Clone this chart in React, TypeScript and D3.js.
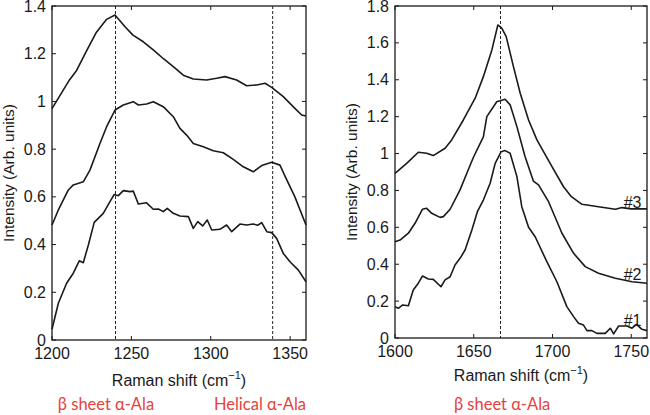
import React from "react";
import * as d3 from "d3";

// ---- Left panel data (Raman shift, intensity) ----
const leftTopX = [1200, 1211, 1215.5, 1222, 1228, 1234.4, 1239.7, 1246, 1251, 1257.5, 1264, 1270, 1276.4, 1282.7, 1289, 1297.4, 1303.7, 1309, 1316.3, 1322.6, 1329, 1334.2, 1338.4, 1345.7, 1353, 1357.3, 1360];
const leftTopY = [0.97, 1.09, 1.13, 1.215, 1.29, 1.344, 1.362, 1.313, 1.278, 1.25, 1.215, 1.18, 1.146, 1.11, 1.094, 1.09, 1.097, 1.104, 1.09, 1.066, 1.069, 1.076, 1.059, 1.02, 0.971, 0.943, 0.939];

const leftMidX = [1200, 1204, 1210.3, 1213.4, 1219.7, 1223.9, 1230.2, 1234.4, 1239.7, 1244.9, 1251.2, 1254.4, 1259.6, 1263.8, 1270.1, 1276.4, 1280.6, 1284.8, 1289, 1295.3, 1301.6, 1307.9, 1314.2, 1320.5, 1326.8, 1332.1, 1338.4, 1343.6, 1347, 1353, 1360];
const leftMidY = [0.482, 0.545, 0.629, 0.65, 0.663, 0.712, 0.824, 0.894, 0.964, 0.985, 0.999, 0.985, 0.989, 0.999, 0.978, 0.936, 0.887, 0.859, 0.824, 0.81, 0.793, 0.785, 0.757, 0.726, 0.705, 0.731, 0.745, 0.733, 0.684, 0.6, 0.482];

const leftBotX = [1200, 1204, 1209.2, 1213.4, 1217.2, 1219.7, 1222.9, 1226.6, 1232.3, 1236.5, 1239.2, 1241.8, 1244.9, 1249.1, 1251.2, 1254.4, 1259.6, 1263.8, 1267, 1270.1, 1272.6, 1276.4, 1280.6, 1285.9, 1289, 1291.8, 1294.9, 1297.8, 1300.6, 1305.8, 1310, 1313.2, 1318.4, 1322.6, 1326.8, 1329.6, 1332.1, 1335.3, 1338.4, 1341.5, 1345.7, 1349.9, 1355.2, 1360];
const leftBotY = [0.045, 0.154, 0.238, 0.28, 0.332, 0.324, 0.398, 0.493, 0.531, 0.58, 0.61, 0.605, 0.626, 0.622, 0.624, 0.57, 0.575, 0.548, 0.549, 0.538, 0.552, 0.531, 0.52, 0.517, 0.468, 0.496, 0.478, 0.503, 0.461, 0.464, 0.482, 0.454, 0.486, 0.482, 0.486, 0.481, 0.492, 0.454, 0.45, 0.426, 0.363, 0.328, 0.293, 0.244];

// ---- Right panel data ----
const rightTopX = [1600, 1607.4, 1614.8, 1620.1, 1624.3, 1631.8, 1636, 1643.4, 1650.9, 1656.1, 1661.5, 1665.3, 1667.8, 1670.6, 1675.2, 1679.5, 1684.8, 1690.1, 1698.5, 1707, 1712, 1718.7, 1729.2, 1739.9, 1744.1, 1750, 1760];
const rightTopY = [0.893, 0.947, 1.007, 1.002, 0.989, 1.029, 1.074, 1.182, 1.3, 1.417, 1.562, 1.697, 1.68, 1.634, 1.471, 1.327, 1.182, 1.074, 0.947, 0.82, 0.766, 0.725, 0.712, 0.698, 0.707, 0.7, 0.7];

const rightMidX = [1600, 1603.2, 1608.5, 1612.7, 1617.4, 1620.1, 1623.3, 1628.6, 1630.7, 1635, 1641.3, 1645.6, 1649.8, 1656.1, 1658.3, 1664.6, 1669.9, 1673.1, 1677.4, 1682.6, 1687.9, 1691.1, 1697.5, 1706, 1713.4, 1720.8, 1729.2, 1739.9, 1750.5, 1760];
const rightMidY = [0.522, 0.531, 0.568, 0.622, 0.698, 0.703, 0.676, 0.654, 0.658, 0.698, 0.803, 0.893, 0.98, 1.09, 1.2, 1.281, 1.294, 1.264, 1.146, 0.983, 0.85, 0.83, 0.739, 0.568, 0.459, 0.387, 0.351, 0.324, 0.305, 0.297];

const rightBotX = [1600, 1602.1, 1604.9, 1608.5, 1611.6, 1614.8, 1617.4, 1621.2, 1624.3, 1629.2, 1631.8, 1635, 1638.1, 1641.3, 1644.5, 1648.8, 1652.3, 1656.1, 1660.4, 1663.6, 1667.4, 1669.9, 1673.1, 1677.4, 1680.5, 1684.8, 1689, 1696.4, 1702.8, 1709.1, 1713.4, 1716.5, 1719.7, 1721.9, 1725, 1728.2, 1733.5, 1736.7, 1738.8, 1742, 1747.3, 1750.5, 1753.3, 1756.8, 1760];
const rightBotY = [0.17, 0.161, 0.179, 0.175, 0.26, 0.297, 0.336, 0.32, 0.318, 0.278, 0.315, 0.332, 0.396, 0.432, 0.477, 0.586, 0.685, 0.748, 0.839, 0.947, 1.01, 1.016, 1.002, 0.875, 0.712, 0.6, 0.549, 0.414, 0.305, 0.17, 0.116, 0.08, 0.07, 0.04, 0.04, 0.025, 0.025, 0.053, 0.022, 0.065, 0.065, 0.053, 0.074, 0.047, 0.04];

const leftXTicks = [1200, 1250, 1300, 1350];
const leftYTicks = [0, 0.2, 0.4, 0.6, 0.8, 1, 1.2, 1.4];
const rightXTicks = [1600, 1650, 1700, 1750];
const rightYTicks = [0, 0.2, 0.4, 0.6, 0.8, 1, 1.2, 1.4, 1.6, 1.8];
const leftMarkers = [1240, 1339];
const rightMarkers = [1667];
const seriesLabels = ["#3", "#2", "#1"];
const seriesLabelY = [0.735, 0.345, 0.095];
const leftBandLabels = ["β sheet α-Ala", "Helical α-Ala"];
const rightBandLabels = ["β sheet α-Ala"];

type PanelProps = {
  x0: number; x1: number; y0: number; y1: number;
  xDomain: [number, number]; yDomain: [number, number];
  xTicks: number[]; yTicks: number[];
  series: { x: number[]; y: number[] }[];
  markers: number[];
  yLabelX: number; xLabelY: number;
};

const font = "'Liberation Sans', Arial, sans-serif";

function Panel(p: PanelProps) {
  const xs = d3.scaleLinear().domain(p.xDomain).range([p.x0, p.x1]);
  const ys = d3.scaleLinear().domain(p.yDomain).range([p.y1, p.y0]);
  const line = d3.line<[number, number]>().x((d) => xs(d[0])).y((d) => ys(d[1]));
  const tl = 4;
  return (
    <g>
      {p.markers.map((m, i) => (
        <line key={"m" + i} x1={xs(m)} x2={xs(m)} y1={p.y0} y2={p.y1} stroke="#222" strokeWidth={1} strokeDasharray="3,2" />
      ))}
      {p.series.map((s, i) => (
        <path key={"s" + i} d={line(s.x.map((v, j) => [v, s.y[j]] as [number, number])) || ""} fill="none" stroke="#1a1a1a" strokeWidth={1.6} strokeLinejoin="round" />
      ))}
      <rect x={p.x0} y={p.y0} width={p.x1 - p.x0} height={p.y1 - p.y0} fill="none" stroke="#1a1a1a" strokeWidth={1.3} />
      {p.xTicks.map((t, i) => (
        <g key={"xt" + i}>
          <line x1={xs(t)} x2={xs(t)} y1={p.y1} y2={p.y1 - tl} stroke="#1a1a1a" />
          <line x1={xs(t)} x2={xs(t)} y1={p.y0} y2={p.y0 + tl} stroke="#1a1a1a" />
          <text x={xs(t)} y={p.y1 + 19} textAnchor="middle" fontFamily={font} fontSize={16} fill="#1a1a1a">{t}</text>
        </g>
      ))}
      {p.yTicks.map((t, i) => (
        <g key={"yt" + i}>
          <line x1={p.x0} x2={p.x0 + tl} y1={ys(t)} y2={ys(t)} stroke="#1a1a1a" />
          <line x1={p.x1} x2={p.x1 - tl} y1={ys(t)} y2={ys(t)} stroke="#1a1a1a" />
          <text x={p.x0 - 6} y={ys(t) + 5.5} textAnchor="end" fontFamily={font} fontSize={16} fill="#1a1a1a">{String(t)}</text>
        </g>
      ))}
      <text transform={`translate(${p.yLabelX},${(p.y0 + p.y1) / 2}) rotate(-90)`} textAnchor="middle" fontFamily={font} fontSize={15.5} fill="#1a1a1a">Intensity (Arb. units)</text>
      <text x={(p.x0 + p.x1) / 2} y={p.xLabelY} textAnchor="middle" fontFamily={font} fontSize={16} fill="#1a1a1a">
        Raman shift (cm<tspan dy={-7} fontSize={11}>−1</tspan><tspan dy={7}>)</tspan>
      </text>
    </g>
  );
}

export default function App() {
  const L = { x0: 52, x1: 306, y0: 6, y1: 340 };
  const R = { x0: 395, x1: 647, y0: 6, y1: 338 };
  const xsL = d3.scaleLinear().domain([1200, 1360]).range([L.x0, L.x1]);
  const xsR = d3.scaleLinear().domain([1600, 1760]).range([R.x0, R.x1]);
  const ysR = d3.scaleLinear().domain([0, 1.8]).range([R.y1, R.y0]);
  const redFont = "Lato, 'Open Sans', sans-serif";
  return (
    <svg width={650} height={415} style={{ position: "absolute", left: 0, top: 0, background: "#fff" }}>
      <Panel {...L} xDomain={[1200, 1360]} yDomain={[0, 1.4]} xTicks={leftXTicks} yTicks={leftYTicks}
        series={[{ x: leftTopX, y: leftTopY }, { x: leftMidX, y: leftMidY }, { x: leftBotX, y: leftBotY }]}
        markers={leftMarkers} yLabelX={14} xLabelY={386} />
      <Panel {...R} xDomain={[1600, 1760]} yDomain={[0, 1.8]} xTicks={rightXTicks} yTicks={rightYTicks}
        series={[{ x: rightTopX, y: rightTopY }, { x: rightMidX, y: rightMidY }, { x: rightBotX, y: rightBotY }]}
        markers={rightMarkers} yLabelX={357} xLabelY={381} />
      {seriesLabels.map((s, i) => (
        <text key={s} x={xsR(1756.5)} y={ysR(seriesLabelY[i]) + 6} textAnchor="end" fontFamily={font} fontSize={16} fill="#1a1a1a">{s}</text>
      ))}
      {leftBandLabels.map((s, i) => (
        <text key={s} x={i === 0 ? xsL(1234) : xsL(1331)} y={410} textAnchor="middle" fontFamily={redFont} fontSize={16.5} fill="#e8413c">{s}</text>
      ))}
      {rightBandLabels.map((s) => (
        <text key={s} x={xsR(1668)} y={410} textAnchor="middle" fontFamily={redFont} fontSize={16.5} fill="#e8413c">{s}</text>
      ))}
    </svg>
  );
}
